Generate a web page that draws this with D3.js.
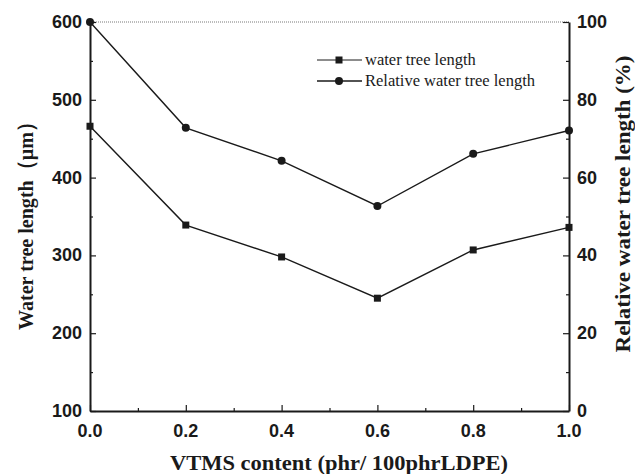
<html>
  <head>
    <script src="https://cdn.jsdelivr.net/npm/d3@7"></script>
    <style>
      body { margin: 0; background: #fff; }
    </style>
  </head>
  <body>
    <script>
      // values
      const vtms = [0.0, 0.2, 0.4, 0.6, 0.8, 1.0];
      const treeLength = [466, 339, 298, 245, 307, 336];          // µm, left axis
      const relativeLength = [100, 72.8, 64.3, 52.7, 66.1, 72.1]; // %, right axis
      const xTicks = [0.0, 0.2, 0.4, 0.6, 0.8, 1.0];
      const leftTicks = [100, 200, 300, 400, 500, 600];
      const rightTicks = [0, 20, 40, 60, 80, 100];
      const legendNames = ["water tree length", "Relative water tree length"];

      const width = 635, height = 474;
      const m = { left: 90, right: 569, top: 22, bottom: 411 };
      const ink = "#1a1a1a";

      const svg = d3.select("body").append("svg")
          .attr("width", width)
          .attr("height", height);

      const x = d3.scaleLinear().domain([0, 1]).range([m.left, m.right]);
      const yL = d3.scaleLinear().domain([100, 600]).range([m.bottom, m.top]);
      const yR = d3.scaleLinear().domain([0, 100]).range([m.bottom, m.top]);

      const tickFont = "bold 18px 'Liberation Sans', Arial, sans-serif";
      const titleFont = "bold 22px 'Liberation Serif', 'Times New Roman', serif";

      // top frame line (thin)
      svg.append("line")
          .attr("x1", m.left).attr("x2", m.right)
          .attr("y1", m.top).attr("y2", m.top)
          .attr("stroke", "#555").attr("stroke-width", 0.8)
          .attr("stroke-dasharray", "1,1");

      // bottom axis
      const bottom = svg.append("g")
          .attr("transform", `translate(0,${m.bottom})`)
          .call(d3.axisBottom(x).tickValues(d3.range(0, 1.01, 0.1)).tickSize(-5).tickSizeOuter(0).tickFormat(""));
      bottom.selectAll(".tick line")
          .attr("y2", (d, i) => i % 2 === 0 ? -6 : -3)
          .attr("stroke", ink).attr("stroke-width", 1.2);
      bottom.select(".domain").attr("stroke", ink).attr("stroke-width", 2);
      svg.append("g").selectAll("text").data(xTicks).join("text")
          .attr("x", d => x(d))
          .attr("y", 437)
          .attr("text-anchor", "middle")
          .style("font", tickFont)
          .attr("fill", ink)
          .text(d => d.toFixed(1));

      // left axis
      const left = svg.append("g")
          .attr("transform", `translate(${m.left},0)`)
          .call(d3.axisLeft(yL).tickValues(d3.range(100, 601, 50)).tickSize(-5).tickSizeOuter(0).tickFormat(""));
      left.selectAll(".tick line")
          .attr("x2", (d, i) => i % 2 === 0 ? 6 : 3)
          .attr("stroke", ink).attr("stroke-width", 1.2);
      left.select(".domain").attr("stroke", ink).attr("stroke-width", 2);
      svg.append("g").selectAll("text").data(leftTicks).join("text")
          .attr("x", 82)
          .attr("y", d => yL(d) + 6)
          .attr("text-anchor", "end")
          .style("font", tickFont)
          .attr("fill", ink)
          .text(d => d);

      // right axis
      const right = svg.append("g")
          .attr("transform", `translate(${m.right},0)`)
          .call(d3.axisRight(yR).tickValues(d3.range(0, 101, 10)).tickSize(-5).tickSizeOuter(0).tickFormat(""));
      right.selectAll(".tick line")
          .attr("x2", (d, i) => i % 2 === 0 ? -6 : -3)
          .attr("stroke", ink).attr("stroke-width", 1.2);
      right.select(".domain").attr("stroke", ink).attr("stroke-width", 2);
      svg.append("g").selectAll("text").data(rightTicks).join("text")
          .attr("x", 577)
          .attr("y", d => yR(d) + 6)
          .attr("text-anchor", "start")
          .style("font", tickFont)
          .attr("fill", ink)
          .text(d => d);

      // axis titles
      svg.append("text")
          .attr("transform", "translate(33,221) rotate(-90)")
          .attr("text-anchor", "middle")
          .attr("textLength", 218)
          .attr("lengthAdjust", "spacingAndGlyphs")
          .style("font", titleFont)
          .attr("fill", ink)
          .text("Water tree length（μm）");

      svg.append("text")
          .attr("transform", "translate(630,204) rotate(-90)")
          .attr("text-anchor", "middle")
          .attr("textLength", 297)
          .attr("lengthAdjust", "spacingAndGlyphs")
          .style("font", titleFont)
          .attr("fill", ink)
          .text("Relative water tree length (%)");

      svg.append("text")
          .attr("x", 339)
          .attr("y", 470)
          .attr("text-anchor", "middle")
          .attr("textLength", 338)
          .attr("lengthAdjust", "spacingAndGlyphs")
          .style("font", titleFont)
          .attr("fill", ink)
          .text("VTMS content (phr/ 100phrLDPE)");

      // series
      const lineL = d3.line().x((d, i) => x(vtms[i])).y(d => yL(d));
      const lineR = d3.line().x((d, i) => x(vtms[i])).y(d => yR(d));

      svg.append("path").datum(treeLength)
          .attr("d", lineL).attr("fill", "none")
          .attr("stroke", ink).attr("stroke-width", 1.4);
      svg.append("path").datum(relativeLength)
          .attr("d", lineR).attr("fill", "none")
          .attr("stroke", ink).attr("stroke-width", 1.4);

      svg.append("g").selectAll("rect").data(treeLength).join("rect")
          .attr("x", (d, i) => x(vtms[i]) - 3.5)
          .attr("y", d => yL(d) - 3.5)
          .attr("width", 7).attr("height", 7)
          .attr("fill", ink);

      svg.append("g").selectAll("circle").data(relativeLength).join("circle")
          .attr("cx", (d, i) => x(vtms[i]))
          .attr("cy", d => yR(d))
          .attr("r", 4)
          .attr("fill", ink);

      // legend
      const legend = svg.append("g").attr("transform", "translate(317,60)");
      legendNames.forEach((name, i) => {
        const g = legend.append("g").attr("transform", `translate(0,${i * 21})`);
        g.append("line").attr("x1", 0).attr("x2", 45).attr("y1", 0).attr("y2", 0)
            .attr("stroke", ink).attr("stroke-width", i === 0 ? 1 : 1.5);
        if (i === 0) {
          g.append("rect").attr("x", 18.5).attr("y", -3.5).attr("width", 7).attr("height", 7).attr("fill", ink);
        } else {
          g.append("circle").attr("cx", 22).attr("cy", 0).attr("r", 4).attr("fill", ink);
        }
        g.append("text").attr("x", 48).attr("y", 5)
            .style("font", "16.5px 'Liberation Serif', 'Times New Roman', serif")
            .attr("fill", ink)
            .text(name);
      });
    </script>
  </body>
</html>
